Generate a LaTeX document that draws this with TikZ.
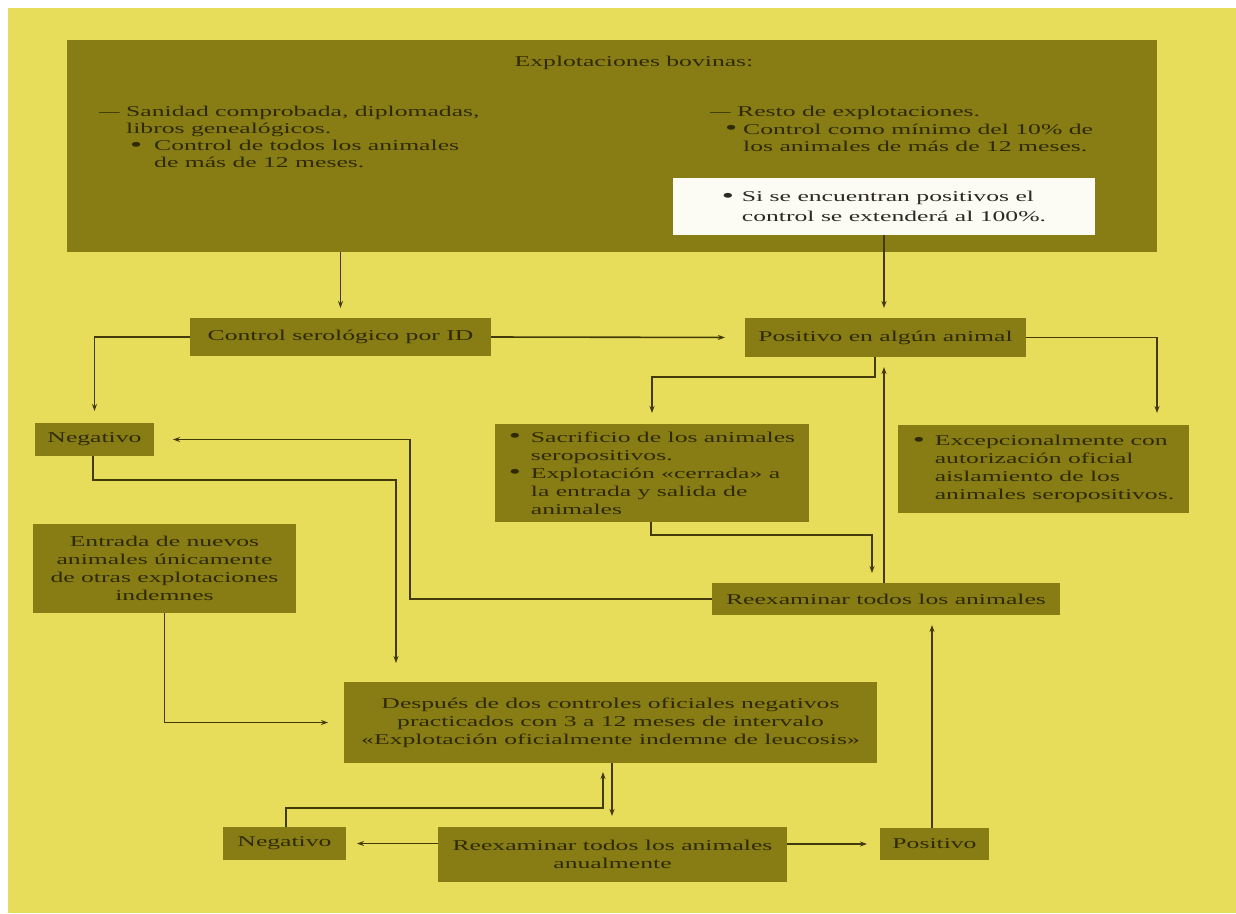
\documentclass[tikz,border=0pt]{standalone}
\usepackage{fontspec}
\setmainfont{Liberation Serif}[FakeStretch=1.71]
\usetikzlibrary{arrows.meta}
\definecolor{bg}{RGB}{231,221,90}
\definecolor{olive}{RGB}{136,124,20}
\definecolor{ink}{RGB}{48,42,4}
\definecolor{linec}{RGB}{66,58,8}
\definecolor{paper}{RGB}{252,251,244}
\newcommand{\bdot}{\raisebox{-0.5pt}{\scalebox{1.35}{•}}}
\newcommand{\bl}[1]{\makebox[22pt][l]{\bdot}#1}
\newcommand{\ind}[1]{\hspace*{22pt}#1}
\newcommand{\dsh}{\makebox[27pt][l]{\scalebox{0.8}[1]{—}}}
\begin{document}
\begin{tikzpicture}[x=1pt,y=-1pt,
  every node/.style={font=\fontsize{15}{18}\selectfont, text=ink},
  box/.style={fill=olive, draw=none, inner sep=0pt, outer sep=0pt, align=center},
  arr/.style={draw=linec, line width=1.6pt, -{Stealth[length=7pt,width=5pt]}},
]
\fill[white] (0,0) rectangle (1236,913);
\fill[bg] (8,8) rectangle (1236,913);
\useasboundingbox (0,0) rectangle (1236,913);

% top block
\node[box, minimum width=1090pt, minimum height=212pt] (top) at (612,146) {};
\node[anchor=base, inner sep=0pt] (title) at (634,66) {Explotaciones bovinas:};
\node[anchor=north west, align=left, inner sep=0pt, font=\fontsize{15}{17}\selectfont] (ltext) at (99,106)
  {\dsh Sanidad comprobada, diplomadas,\\
   \hspace*{27pt}libros genealógicos.\\
   \hspace*{31pt}\makebox[24pt][l]{\bdot}Control de todos los animales\\
   \hspace*{55pt}de más de 12 meses.};
\node[anchor=north west, align=left, inner sep=0pt, font=\fontsize{15}{17.5}\selectfont] (rtext) at (710,106)
  {\dsh Resto de explotaciones.\\
   \hspace*{15pt}\makebox[18pt][l]{\bdot}Control como mínimo del 10\% de\\
   \hspace*{33pt}los animales de más de 12 meses.};
\node[fill=paper, inner sep=0pt, outer sep=0pt, minimum width=422pt, minimum height=57pt,
  align=left, text={rgb,255:red,45;green,43;blue,32}, font=\fontsize{15}{20}\selectfont] (white) at (884,206.5)
  {\makebox[20pt][l]{\bdot}Si se encuentran positivos el\\ \hspace*{20pt}control se extenderá al 100\%.};

% boxes
\node[box, minimum width=301pt, minimum height=38pt] (ctrl) at (340.5,337) {Control serológico por ID};
\node[box, minimum width=281pt, minimum height=39pt] (pos) at (885.5,337.5) {Positivo en algún animal};
\node[box, minimum width=119pt, minimum height=33pt] (neg1) at (94.5,439.5) {Negativo};
\node[box, minimum width=314pt, minimum height=98pt, align=left] (sacr) at (652,473)
  {\bl{Sacrificio de los animales}\\ \ind{seropositivos.}\\ \bl{Explotación «cerrada» a}\\ \ind{la entrada y salida de}\\ \ind{animales}};
\node[box, minimum width=291pt, minimum height=88pt, align=left] (excep) at (1043.5,469)
  {\bl{Excepcionalmente con}\\ \ind{autorización oficial}\\ \ind{aislamiento de los}\\ \ind{animales seropositivos.}};
\node[box, minimum width=263pt, minimum height=89pt] (entrada) at (164.5,568.5)
  {Entrada de nuevos\\ animales únicamente\\ de otras explotaciones\\ indemnes};
\node[box, minimum width=348pt, minimum height=32pt] (reex) at (886,599) {Reexaminar todos los animales};
\node[box, minimum width=533pt, minimum height=81pt] (despues) at (610.5,722.5)
  {Después de dos controles oficiales negativos\\ practicados con 3 a 12 meses de intervalo\\ «Explotación oficialmente indemne de leucosis»};
\node[box, minimum width=123pt, minimum height=33pt] (neg2) at (284.5,843.5) {Negativo};
\node[box, minimum width=349pt, minimum height=55pt] (reexa) at (612.5,854.5) {Reexaminar todos los animales\\ anualmente};
\node[box, minimum width=109pt, minimum height=32pt] (pos2) at (934.5,844) {Positivo};

% connectors
\draw[arr, shorten >=10pt] (top.south -| ctrl.north) -- (ctrl.north);
\draw[arr, shorten >=10pt] (white.south) -- (white.south |- pos.north);
\draw[arr, shorten >=20pt] (ctrl.east) -- (pos.west);
\draw[arr, shorten >=12pt] (ctrl.west) -| (neg1.north);
\draw[arr, shorten >=12pt] (pos.east) -| ([xshift=-32pt]excep.north east);
\draw[arr, shorten >=11pt] ([xshift=-10.5pt]pos.south) -- ++(0,20) -| (sacr.north);
\draw[arr, shorten >=10pt] ([xshift=-2pt]reex.north) -- ([xshift=-2pt]reex.north |- pos.south);
\draw[arr, shorten >=10pt] ([xshift=-1pt]sacr.south) -- ++(0,13) -| ([xshift=-14pt]reex.north);
\draw[arr, shorten >=19pt] (reex.west) -- ++(-302,0) |- (neg1.east);
\draw[arr, shorten >=19pt] ([xshift=-1.5pt]neg1.south) -- ++(0,24) -| ([xshift=-214.5pt]despues.north);
\draw[arr, shorten >=16pt] (entrada.south) |- (despues.west);
\draw[arr, shorten >=11pt] ([xshift=1.5pt]despues.south) -- ([xshift=1.5pt]despues.south |- reexa.north);
\draw[arr, shorten >=9pt] ([xshift=1.5pt]neg2.north) -- ++(0,-19) -| ([xshift=-7.5pt]despues.south);
\draw[arr, shorten >=11pt] (neg2.east -| reexa.west) -- (neg2.east);
\draw[arr, shorten >=13pt] (pos2.west -| reexa.east) -- (pos2.west);
\draw[arr, shorten >=10pt] ([xshift=-2.5pt]pos2.north) -- ([xshift=-2.5pt]pos2.north |- reex.south);
\end{tikzpicture}
\end{document}
